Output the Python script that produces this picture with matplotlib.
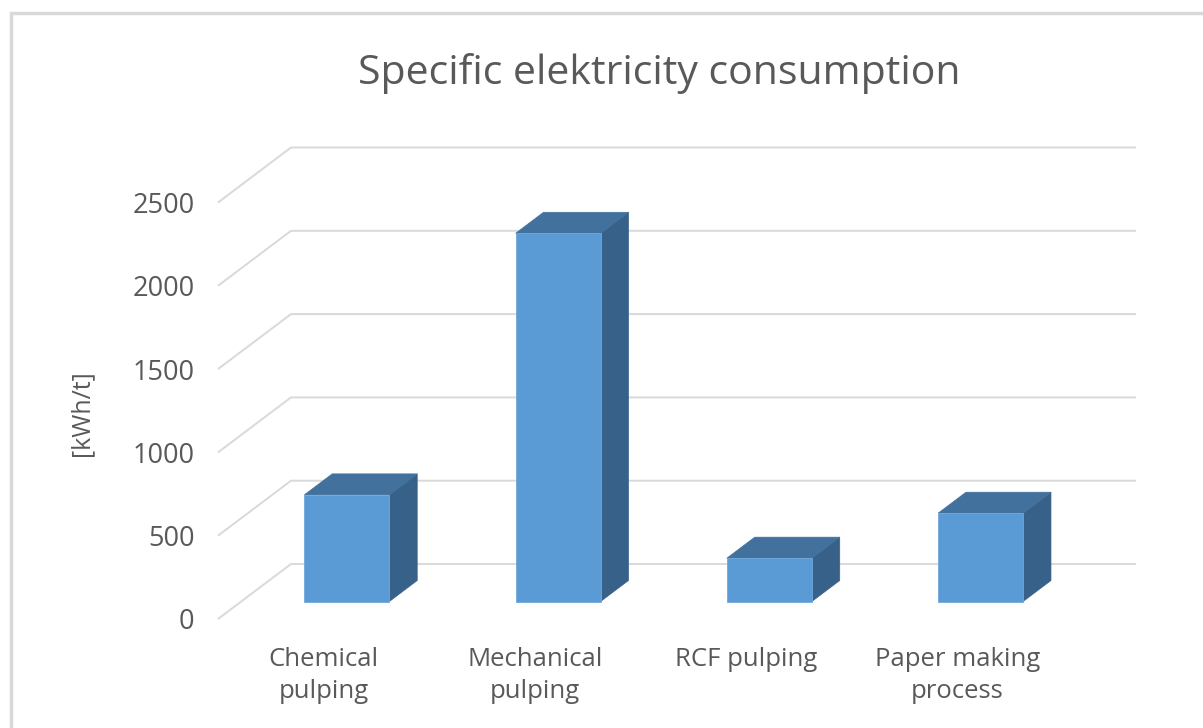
import matplotlib.pyplot as plt
from matplotlib.patches import Polygon, Rectangle

categories = ["Chemical\npulping", "Mechanical\npulping", "RCF pulping", "Paper making\nprocess"]
values = [640, 2210, 260, 530]
yticks = [0, 500, 1000, 1500, 2000, 2500]

title = "Specific elektricity consumption"
ylabel = "[kWh/t]"

front_col = "#5B9BD5"
top_col = "#41719C"
side_col = "#38618A"
grid_col = "#d9d9d9"
text_col = "#595959"

plt.rcParams['font.family'] = ['Open Sans', 'DejaVu Sans']

W, H = 1203, 728
fig = plt.figure(figsize=(W / 100, H / 100), dpi=100)

# floor/back wall geometry (oblique projection, in data units)
px_per_val = 83.3 / 500
dx = 73 / 211.25          # depth shift along x (category units)
dy = 55 / px_per_val      # depth shift along y (value units)
z0, z1 = 0.318, 0.70      # bar depth range
bw = 85 / 211.25          # bar width

left, right, bottom, top = 218, 1136, 619, 145
ax = fig.add_axes([left / W, 1 - bottom / H, (right - left) / W, (bottom - top) / H])
ax.set_xlim(-0.5, len(categories) - 0.5 + dx)
ax.set_ylim(0, (bottom - top) / px_per_val)
ax.axis("off")

x0, x1 = -0.5, len(categories) - 0.5
for t in yticks:
    ax.plot([x0, x0 + dx, x1 + dx], [t, t + dy, t + dy], color=grid_col,
            lw=1.4, solid_capstyle="butt", clip_on=False, zorder=1)
    ax.annotate(str(t), (x0, t), xytext=(-17, -2.5), textcoords="offset points",
                ha="right", va="center", fontsize=19.5, color=text_col,
                annotation_clip=False)

for i, v in enumerate(values):
    xl = i + z0 * dx - bw / 2
    xr = xl + bw
    yb = z0 * dy
    sx, sy = (z1 - z0) * dx, (z1 - z0) * dy
    ax.add_patch(Polygon([(xr, yb), (xr + sx, yb + sy), (xr + sx, yb + sy + v), (xr, yb + v)],
                         closed=True, fc=side_col, ec=side_col, lw=0.5, zorder=3))
    ax.add_patch(Polygon([(xl, yb + v), (xr, yb + v), (xr + sx, yb + sy + v), (xl + sx, yb + sy + v)],
                         closed=True, fc=top_col, ec=top_col, lw=0.5, zorder=3))
    ax.add_patch(Rectangle((xl, yb), bw, v, fc=front_col, ec="#6fa8dc", lw=0.6, zorder=4))
    ax.annotate(categories[i], (i, 0), xytext=(0, -20), textcoords="offset points",
                ha="center", va="top", fontsize=18.5, color=text_col,
                linespacing=1.38, annotation_clip=False)

fig.text(659 / W, 1 - 73 / H, title, ha="center", va="center", fontsize=29.5, color=text_col)
fig.text(82 / W, 1 - 413 / H, ylabel, ha="center", va="center", rotation=90,
         fontsize=18, color=text_col)

# chart area border
fig.add_artist(Rectangle((10.5 / W, -0.1), 1.2, 1 - 12.5 / H + 0.1, transform=fig.transFigure,
                         fill=False, ec=grid_col, lw=2.5))

fig.savefig("out.png", dpi=100)
